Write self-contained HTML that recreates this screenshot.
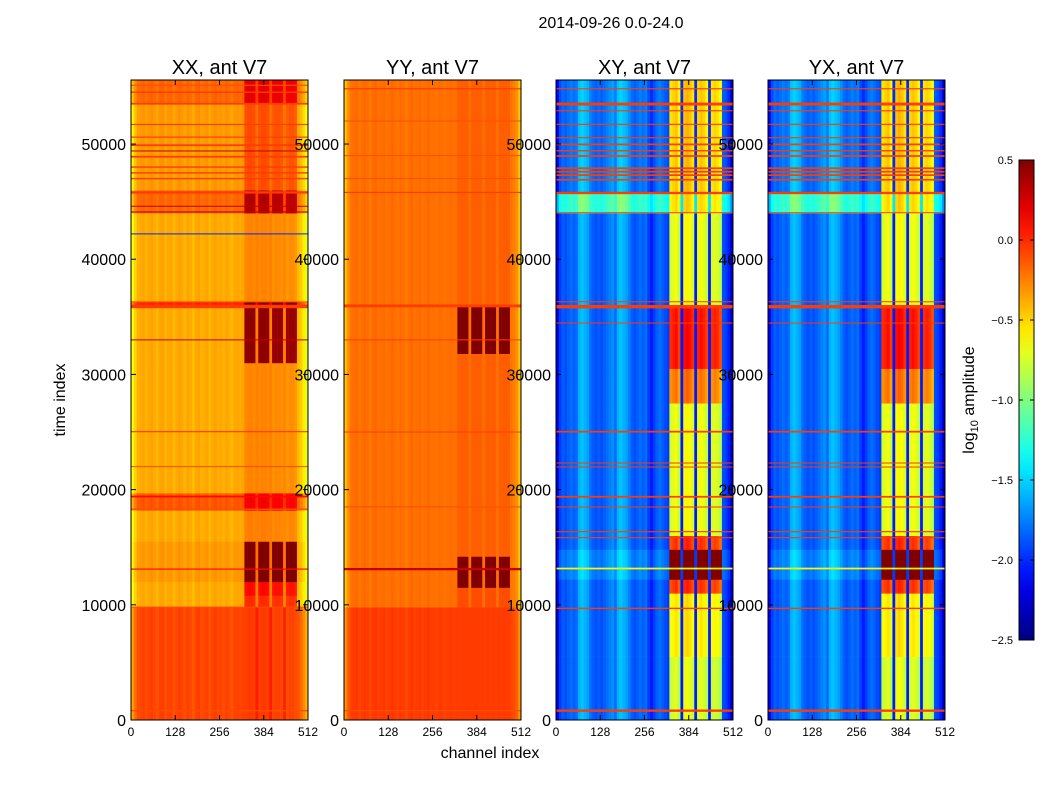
<!DOCTYPE html>
<html><head><meta charset="utf-8"><style>
body{margin:0;background:#fff;}
svg{display:block;font-family:"Liberation Sans",sans-serif;}
</style></head><body>
<svg id="fig" width="1050" height="800" viewBox="0 0 1050 800" xmlns="http://www.w3.org/2000/svg">
<rect width="1050" height="800" fill="#fff"/>
<text x="611" y="28" font-size="16" text-anchor="middle">2014-09-26 0.0-24.0</text>
<text x="0" y="0" font-size="16" text-anchor="middle" transform="translate(65,400) rotate(-90)">time index</text>
<text x="490" y="758" font-size="16" text-anchor="middle">channel index</text>
<g id="panels"></g>
<g id="cbar"></g>
</svg>
<script>
// ---- data ----
const panelTitles = ["XX, ant V7","YY, ant V7","XY, ant V7","YX, ant V7"];
const yTicks = [0,10000,20000,30000,40000,50000];
const xTicks = [0,128,256,384,512];
const cbarTicks = [0.5,0.0,-0.5,-1.0,-1.5,-2.0,-2.5];
// column (bright band) mask over 64 channel bins (8 ch each)
const colMask = [0,0,0,0,0,0,0,0,0,0,0,0,0,0,0,0,0,0,0,0,0,0,0,0,0,0,0,0,0,0,0,0,0,0,0,0,0,0,0,0,0,1,1,1,1,0,1,1,1,1,0,1,1,1,1,0,1,1,1,1,0,0,0,0];
const profXX = [-0.65,-0.5,-0.4,-0.38,-0.36,-0.4,-0.37,-0.35,-0.38,-0.42,-0.36,-0.35,-0.4,-0.37,-0.36,-0.42,-0.38,-0.35,-0.37,-0.41,-0.36,-0.38,-0.43,-0.37,-0.35,-0.4,-0.38,-0.36,-0.42,-0.37,-0.35,-0.39,-0.37,-0.4,-0.36,-0.38,-0.42,-0.37,-0.36,-0.38,-0.36,-0.36,-0.34,-0.34,-0.36,-0.25,-0.36,-0.34,-0.34,-0.36,-0.25,-0.38,-0.36,-0.36,-0.38,-0.27,-0.4,-0.37,-0.37,-0.4,-0.42,-0.48,-0.58,-0.7];
const profYY = [-0.45,-0.3,-0.22,-0.2,-0.18,-0.22,-0.2,-0.18,-0.2,-0.23,-0.19,-0.18,-0.21,-0.2,-0.19,-0.22,-0.2,-0.18,-0.2,-0.22,-0.19,-0.2,-0.23,-0.2,-0.18,-0.21,-0.2,-0.19,-0.22,-0.2,-0.18,-0.21,-0.2,-0.22,-0.19,-0.2,-0.22,-0.2,-0.19,-0.2,-0.2,-0.2,-0.2,-0.2,-0.2,-0.2,-0.2,-0.2,-0.2,-0.2,-0.2,-0.2,-0.2,-0.2,-0.2,-0.2,-0.2,-0.2,-0.2,-0.2,-0.22,-0.25,-0.3,-0.45];
const profXY = [-2.2,-1.95,-1.85,-1.9,-1.85,-1.8,-1.85,-1.8,-1.6,-1.55,-1.6,-1.65,-1.8,-1.85,-1.9,-1.85,-1.9,-1.85,-1.8,-1.75,-1.7,-1.8,-1.6,-1.55,-1.6,-1.65,-1.75,-1.85,-1.9,-1.85,-1.8,-1.85,-1.8,-1.95,-2.05,-1.95,-1.85,-1.8,-1.85,-1.9,-1.95,-0.8,-0.75,-0.7,-0.85,-2.05,-0.7,-0.65,-0.7,-0.8,-2.05,-0.75,-0.7,-0.75,-0.85,-2.05,-0.8,-0.75,-0.8,-0.9,-1.9,-1.95,-2.05,-2.3];
// time segments: [tStart, tEnd, baseOffset, columnBoost]
const segXX = [[0,9800,0.3,0],[9800,10800,0,0.35],[10800,12000,0,0.45],[12000,15500,0.05,0.85],[15500,18200,0,0.1],[18200,19700,0.25,0.25],[19700,31000,0,0.08],[31000,35800,0,0.8],[35800,36300,0.4,0.6],[36300,44000,0,0.08],[44000,46000,0.2,0.5],[46000,53500,0.05,0.2],[53500,55600,0.2,0.35]];
const segYY = [[0,9800,0.15,0],[9800,11500,0,0.1],[11500,14200,0,0.8],[14200,31800,0,0.05],[31800,36000,0,0.7],[36000,55600,0,0.05]];
const segXY = [[0,5500,0,0.0],[5500,11000,0,0.15],[11000,12200,0,0.7],[12200,14800,0.1,1.35],[14800,16000,0,0.7],[16000,27500,0,0.05],[27500,30500,0,0.5],[30500,35900,0,0.8],[35900,44000,0,0.05],[44000,45800,0.6,-0.4],[45800,55600,0.05,0.2]];
// horizontal lines: [time, value, thickness(time units)]
const linesXX = [[810,-0.1,120],[9800,-0.1,80],[13100,0.1,100],[18300,-0.1,120],[19400,0.1,150],[22000,-0.1,80],[25030,-0.05,100],[33000,0.3,80],[35900,-0.05,300],[36300,-0.1,80],[42200,-2.0,60],[44100,0.3,100],[44600,0.3,80],[45800,-0.05,200],[47000,-0.05,120],[47500,-0.05,120],[48000,-0.05,120],[48900,-0.05,150],[49400,0.3,80],[49900,-0.05,150],[50600,-0.05,100],[51700,-0.05,100],[53500,-0.05,150],[54500,-0.05,120],[55100,-0.1,100]];
const linesYY = [[810,-0.1,100],[13100,0.3,200],[18500,-0.1,80],[25000,-0.05,80],[33000,-0.05,60],[35950,-0.05,250],[45800,-0.05,100],[47000,-0.1,80],[49000,-0.1,80],[52000,-0.1,80],[54800,-0.05,100]];
const linesXY = [[810,-0.05,200],[9690,-0.05,120],[13150,-0.6,150],[15830,-0.05,100],[16350,-0.05,100],[18490,-0.05,80],[19380,-0.05,150],[21960,-0.05,80],[22310,-0.05,80],[25030,-0.05,150],[34460,-0.05,80],[35880,-0.05,300],[36310,-0.05,80],[44040,-0.05,80],[45750,-0.05,200],[46900,-0.05,150],[47300,-0.05,150],[47600,-0.05,150],[47900,-0.05,150],[48960,-0.05,150],[49420,-0.05,120],[49970,-0.05,150],[50550,-0.05,100],[51710,-0.05,100],[52890,-0.05,100],[53470,-0.05,250],[54800,-0.05,100]];
const panelX = [131,344,556,768];

// ---- helpers ----
const W=177, Y0=80, Y1=720, TMAX=55560, VMIN=-2.5, VMAX=0.5;
const yScale = t => Y1 - t/TMAX*(Y1-Y0);
const xScale = (x0,ch) => x0 + ch/512*W;
function jet(v){
  let x=(v-VMIN)/(VMAX-VMIN); x=Math.max(0,Math.min(1,x));
  const f=a=>Math.max(0,Math.min(1,a));
  const r=f(1.5-Math.abs(4*x-3)), g=f(1.5-Math.abs(4*x-2)), b=f(1.5-Math.abs(4*x-1));
  return `rgb(${Math.round(r*255)},${Math.round(g*255)},${Math.round(b*255)})`;
}
const NS="http://www.w3.org/2000/svg";
function mk(tag,attrs,parent){const e=document.createElementNS(NS,tag);for(const k in attrs)e.setAttribute(k,attrs[k]);parent.appendChild(e);return e;}

const panels=document.getElementById('panels');
const cfg=[[profXX,segXX,linesXX],[profYY,segYY,linesYY],[profXY,segXY,linesXY],[profXY,segXY,linesXY]];
const slugs=["xx","yy","xy","yx"];
cfg.forEach((c,pi)=>{
  const [prof,segs,lines]=c, x0=panelX[pi];
  const g=mk('g',{},panels);
  
  
  segs.forEach(s=>{
    const ya=yScale(s[1]), yb=yScale(s[0]);
    prof.forEach((p,ci)=>{
      const v=p+s[2]+(colMask[ci]?s[3]:0);
      const xa=xScale(x0,ci*8), xb=xScale(x0,ci*8+8);
      const r=mk('rect',{x:xa.toFixed(2),y:ya.toFixed(2),width:(xb-xa+0.3).toFixed(2),height:(yb-ya+0.3).toFixed(2),fill:jet(v)},g);
      
      
    });
  });
  lines.forEach(l=>{
    const h=Math.max(1,l[2]/TMAX*640);
    const r=mk('rect',{x:x0,y:(yScale(l[0])-h/2).toFixed(2),width:W,height:h.toFixed(2),fill:jet(l[1])},g);
    
    
  });
  const fr=mk('rect',{x:x0,y:Y0,width:W,height:Y1-Y0,fill:'none',stroke:'#000','stroke-width':1},g);
  
  
  const tt=mk('text',{x:x0+W/2,y:74,'font-size':20,'text-anchor':'middle'},g);
  tt.textContent=panelTitles[pi];
  
  
  yTicks.forEach(t=>{
    const y=yScale(t);
    mk('line',{x1:x0,x2:x0+5,y1:y,y2:y,stroke:'#000'},g);
    mk('line',{x1:x0+W-5,x2:x0+W,y1:y,y2:y,stroke:'#000'},g);
    const tx=mk('text',{x:x0-5,y:y+6,'font-size':16,'text-anchor':'end'},g);
    tx.textContent=t;
    
    
  });
  xTicks.forEach(t=>{
    const x=xScale(x0,t);
    mk('line',{x1:x,x2:x,y1:Y1,y2:Y1-5,stroke:'#000'},g);
    mk('line',{x1:x,x2:x,y1:Y0,y2:Y0+5,stroke:'#000'},g);
    const tx=mk('text',{x:x,y:736,'font-size':12,'text-anchor':'middle'},g);
    tx.textContent=t;
    
    
  });
});

// colorbar
const cb=document.getElementById('cbar');


const CX=1019, CW=15, CY0=160, CY1=640;
const defs=mk('defs',{},cb);
const lg=mk('linearGradient',{id:'jetg',x1:0,y1:1,x2:0,y2:0},defs);
for(let i=0;i<=20;i++){mk('stop',{offset:i/20,'stop-color':jet(VMIN+i/20*(VMAX-VMIN))},lg);}
mk('rect',{x:CX,y:CY0,width:CW,height:CY1-CY0,fill:'url(#jetg)',stroke:'#000','stroke-width':1},cb);
cbarTicks.forEach(v=>{
  const y=CY1-(v-VMIN)/(VMAX-VMIN)*(CY1-CY0);
  mk('line',{x1:CX,x2:CX+4,y1:y,y2:y,stroke:'#000'},cb);
  mk('line',{x1:CX+CW-4,x2:CX+CW,y1:y,y2:y,stroke:'#000'},cb);
  const t=mk('text',{x:1013,y:y+4,'font-size':11,'text-anchor':'end'},cb);
  t.textContent=v.toFixed(1).replace('-','\u2212');
  
  
});
const cl=mk('text',{'font-size':16,'text-anchor':'middle',transform:'translate(974,400) rotate(-90)'},cb);
cl.innerHTML='log<tspan font-size="11" dy="4">10</tspan><tspan dy="-4"> amplitude</tspan>';


</script>
</body></html>
